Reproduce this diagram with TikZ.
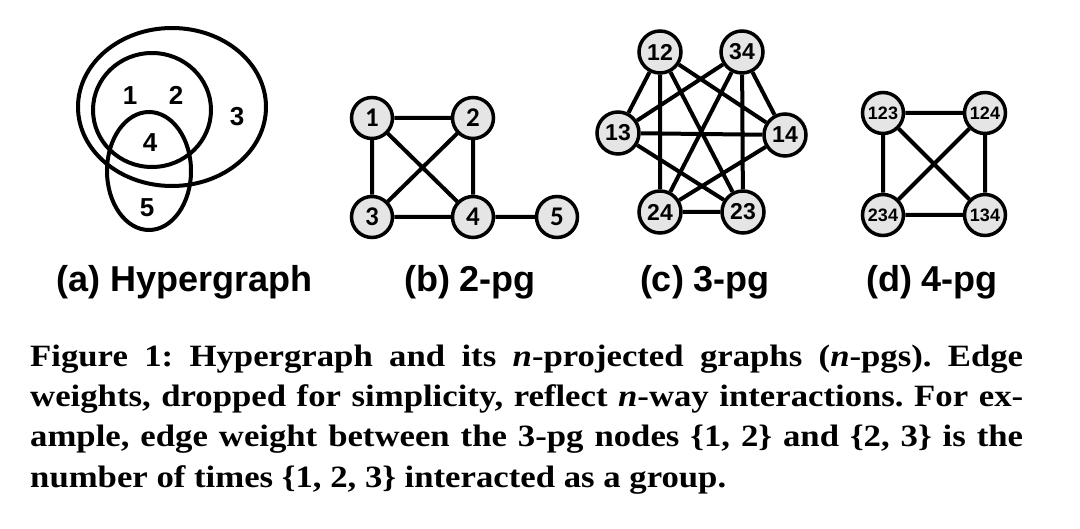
\documentclass[tikz,border=0pt]{standalone}
\usepackage{fontspec}
\newfontfamily\arial{Liberation Sans}
\newfontfamily\calib{Carlito}
\newfontfamily\capfont[FakeStretch=1.12]{Liberation Serif}
\begin{document}
\begin{tikzpicture}[x=1pt,y=-1pt,
  hedge/.style={line width=4pt},
  vtx/.style={circle,draw,line width=3.5pt,fill=black!10,inner sep=0pt},
  conn/.style={line width=4pt},
  hlabel/.style={anchor=base,inner sep=0pt,font=\arial\bfseries\fontsize{26}{26}\selectfont},
  sub/.style={font=\arial\bfseries\fontsize{36}{36}\selectfont,anchor=base},
  capline/.style={anchor=base west,inner sep=0pt,font=\capfont\bfseries\fontsize{31}{31}\selectfont\frenchspacing}
]
\useasboundingbox (0,0) rectangle (1080,529);
% (a) hypergraph
\draw[hedge] (172,107) ellipse [x radius=94,y radius=79];
\draw[hedge] (152,110) ellipse [x radius=59,y radius=57];
\draw[hedge] (149,171) ellipse [x radius=42,y radius=59];
\node[hlabel] (h1) at (130,105) {1};
\node[hlabel] (h2) at (176,105) {2};
\node[hlabel] (h3) at (237,126) {3};
\node[hlabel] (h4) at (150,152) {4};
\node[hlabel] (h5) at (147,217) {5};
% (b) 2-pg
\begin{scope}[every node/.append style={vtx,minimum size=41pt,font=\calib\bfseries\fontsize{27}{27}\selectfont}]
\node (b1) at (372,118) {1};
\node (b2) at (473,118) {2};
\node (b3) at (372,217) {3};
\node (b4) at (473,217) {4};
\node (b5) at (557,217) {5};
\end{scope}
\draw[conn] (b1)--(b2) (b1)--(b3) (b1)--(b4) (b2)--(b3) (b2)--(b4) (b3)--(b4) (b4)--(b5);
% (c) 3-pg
\begin{scope}[every node/.append style={vtx,minimum size=42pt,font=\arial\bfseries\fontsize{23}{23}\selectfont}]
\node (c12) at (660,52) {12};
\node (c34) at (742,52) {34};
\node (c13) at (618,133) {13};
\node (c14) at (785,135) {14};
\node (c24) at (660,212) {24};
\node (c23) at (743,212) {23};
\end{scope}
\draw[conn] (c12)--(c13) (c12)--(c24) (c12)--(c23) (c12)--(c14)
  (c34)--(c13) (c34)--(c24) (c34)--(c23) (c34)--(c14)
  (c13)--(c14) (c13)--(c23) (c14)--(c24) (c24)--(c23);
% (d) 4-pg
\begin{scope}[every node/.append style={vtx,minimum size=41pt,font=\arial\bfseries\fontsize{18}{18}\selectfont}]
\node (d123) at (883,113) {123};
\node (d124) at (985,113) {124};
\node (d234) at (883,215) {234};
\node (d134) at (985,215) {134};
\end{scope}
\draw[conn] (d123)--(d124) (d123)--(d234) (d123)--(d134) (d124)--(d234) (d124)--(d134) (d234)--(d134);
% subtitles
\node[sub] (sa) at (185,292) {(a) Hypergraph};
\node[sub] (sb) at (470,292) {(b) 2-pg};
\node[sub] (sc) at (705,292) {(c) 3-pg};
\node[sub] (sd) at (932,292) {(d) 4-pg};
% caption
\node[capline] (cap1) at (30,367) {\makebox[993pt][s]{Figure 1: Hypergraph and its \textit{n}-projected graphs (\textit{n}-pgs). Edge}};
\node[capline] (cap2) at (30,407) {\makebox[993pt][s]{weights, dropped for simplicity, reflect \textit{n}-way interactions. For ex-}};
\node[capline] (cap3) at (30,447) {\makebox[993pt][s]{ample, edge weight between the 3-pg nodes \{1, 2\} and \{2, 3\} is the}};
\node[capline] (cap4) at (30,487) {number of times \{1, 2, 3\} interacted as a group.};
\end{tikzpicture}
\end{document}
